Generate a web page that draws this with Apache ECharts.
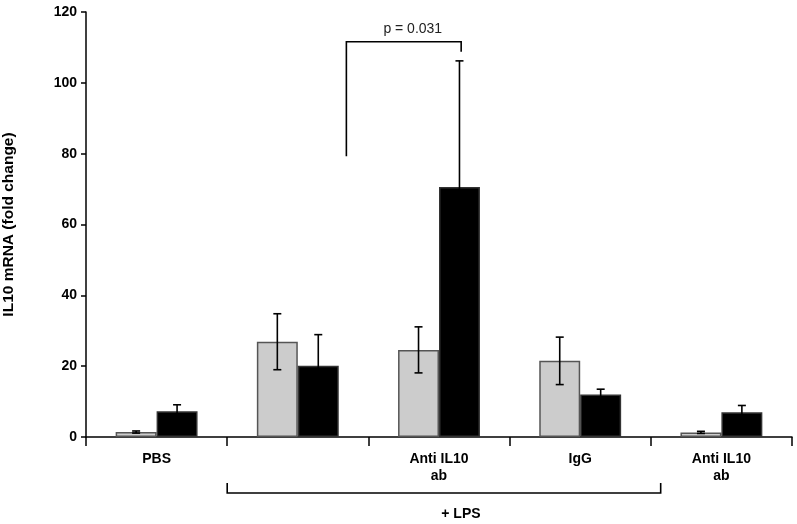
<!DOCTYPE html>
<html><head><meta charset="utf-8">
<script src="https://cdn.jsdelivr.net/npm/echarts@6/dist/echarts.min.js"></script>
<style>html,body{margin:0;padding:0;background:#fff}#c{width:797px;height:524px}</style>
</head><body><div id="c"></div>
<script>
var categories = ['PBS', '', 'Anti IL10\nab', 'IgG', 'Anti IL10\nab'];
var greyValues = [1.4, 26.9, 24.6, 21.5, 1.3];
var greyErrors = [0.3, 7.9, 6.5, 6.7, 0.3];
var blackValues = [7.3, 20.1, 70.6, 12.0, 7.0];
var blackErrors = [1.8, 8.8, 35.6, 1.5, 1.9];
var yTicks = [0, 20, 40, 60, 80, 100, 120];
var pText = 'p = 0.031';
var bracketValues = {top: 111.6, leftBottom: 79.3, rightBottom: 108.8};
var lpsText = '+ LPS';

var BAR_FRAC = 0.29;
var chart = echarts.init(document.getElementById('c'));
var FONT = 'Arial, "Liberation Sans", sans-serif';

function errSeries(vals, errs, sign) {
  return {
    type: 'custom', z: 10,
    data: vals.map(function (v, i) { return [i, v, errs[i]]; }),
    renderItem: function (params, api) {
      var i = api.value(0), v = api.value(1), e = api.value(2);
      var band = api.size([1, 0])[0];
      var off = sign * band * BAR_FRAC / 2;
      var hi = api.coord([i, v + e]);
      var lo = api.coord([i, v - e]);
      var x = hi[0] + off;
      var cap = 4;
      var st = {stroke: '#000', lineWidth: 1.6};
      return {type: 'group', children: [
        {type: 'line', shape: {x1: x, y1: hi[1], x2: x, y2: lo[1]}, style: st},
        {type: 'line', shape: {x1: x - cap, y1: hi[1], x2: x + cap, y2: hi[1]}, style: st},
        {type: 'line', shape: {x1: x - cap, y1: lo[1], x2: x + cap, y2: lo[1]}, style: st}
      ]};
    }
  };
}

chart.setOption({
  animation: false,
  backgroundColor: '#fff',
  grid: {left: 86, right: 5, top: 12, bottom: 87, outerBoundsMode: 'none', containLabel: false},
  xAxis: {
    type: 'category', data: categories,
    axisLine: {lineStyle: {color: '#000', width: 1.5}},
    axisTick: {show: true, interval: 0, length: 9, lineStyle: {color: '#000', width: 1.5}},
    axisLabel: {interval: 0, color: '#000', fontWeight: 'bold', fontSize: 14, fontFamily: FONT, margin: 14, lineHeight: 17}
  },
  yAxis: {
    type: 'value', min: yTicks[0], max: yTicks[yTicks.length - 1], interval: 20,
    name: 'IL10 mRNA (fold change)', nameLocation: 'middle', nameGap: 69,
    nameTextStyle: {color: '#000', fontWeight: 'bold', fontSize: 15.5, fontFamily: FONT},
    splitLine: {show: false},
    axisLine: {show: true, lineStyle: {color: '#000', width: 1.5}},
    axisTick: {show: true, length: 5, lineStyle: {color: '#000', width: 1.5}},
    axisLabel: {color: '#000', fontWeight: 'bold', fontSize: 14, fontFamily: FONT, margin: 9}
  },
  series: [
    {type: 'bar', data: greyValues, barWidth: (BAR_FRAC * 100) + '%', barGap: '0%',
     itemStyle: {color: '#cccccc', borderColor: '#555', borderWidth: 1.5}},
    {type: 'bar', data: blackValues, barWidth: (BAR_FRAC * 100) + '%', barGap: '0%',
     itemStyle: {color: '#000', borderColor: '#333', borderWidth: 1.5}},
    errSeries(greyValues, greyErrors, -1),
    errSeries(blackValues, blackErrors, 1)
  ]
});

function px(i, v) { return chart.convertToPixel({gridIndex: 0}, [i, v]); }
var c0 = px(0, 0), c1 = px(1, 0);
var band = c1[0] - c0[0];
var axisY = c0[1];
var lx = px(1, 0)[0] + 0.344 * band;
var rx = px(2, 0)[0] + 0.157 * band;
var ty = px(0, bracketValues.top)[1];
var lb = px(0, bracketValues.leftBottom)[1];
var rb = px(0, bracketValues.rightBottom)[1];
var lpsL = px(1, 0)[0] - 0.5 * band;
var lpsR = px(3, 0)[0] + 0.57 * band;
var ls = {stroke: '#000', lineWidth: 1.6, fill: null};
chart.setOption({
  graphic: [
    {type: 'polyline', shape: {points: [[lx, lb], [lx, ty], [rx, ty], [rx, rb]]}, style: ls},
    {type: 'text', x: (lx + rx) / 2 + 9, y: ty - 13, style: {text: pText, fill: '#222', font: '14px ' + FONT, align: 'center', verticalAlign: 'middle'}},
    {type: 'polyline', shape: {points: [[lpsL, axisY + 46], [lpsL, axisY + 56], [lpsR, axisY + 56], [lpsR, axisY + 46]]}, style: ls},
    {type: 'text', x: (lpsL + lpsR) / 2 + 17, y: axisY + 77, style: {text: lpsText, fill: '#000', font: 'bold 14px ' + FONT, align: 'center', verticalAlign: 'middle'}}
  ]
});
</script></body></html>
